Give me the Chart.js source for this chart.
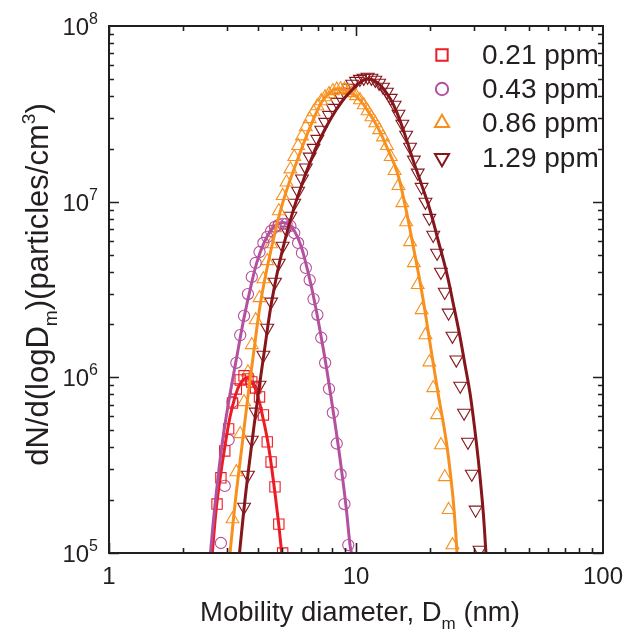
<!DOCTYPE html>
<html>
<head>
<meta charset="utf-8">
<script src="https://cdn.jsdelivr.net/npm/chart.js@4.4.0/dist/chart.umd.min.js"></script>
<style>
    html, body { margin: 0; padding: 0; background: #fff; }
    #sizeDistChart { display: block; width: 635px; height: 630px; }
</style>
</head>
<body>
<canvas id="sizeDistChart" width="635" height="630"></canvas>
<script>
//############################ Data ############################
const seriesLabels = ['0.21 ppm', '0.43 ppm', '0.86 ppm', '1.29 ppm'];

// mobility diameter bins (nm), 64 channels per decade
const binDiameters = [
    2.738, 2.838, 2.942, 3.050, 3.162, 3.278, 3.398, 3.522, 3.652, 3.785,
    3.924, 4.068, 4.217, 4.371, 4.532, 4.698, 4.870, 5.048, 5.233, 5.425,
    5.623, 5.829, 6.043, 6.264, 6.494, 6.732, 6.978, 7.234, 7.499, 7.774,
    8.058, 8.354, 8.660, 8.977, 9.306, 9.647, 10.00, 10.37, 10.75, 11.14,
    11.55, 11.97, 12.41, 12.86, 13.34, 13.82, 14.33, 14.86, 15.40, 15.96,
    16.55, 17.15, 17.78, 18.43, 19.11, 19.81, 20.54, 21.29, 22.07, 22.88,
    23.71, 24.58, 25.48, 26.42, 27.38, 28.39, 29.43, 30.50, 31.62
];
// index of the first bin used by each series
const firstBin = [0, 1, 4, 7];

// measured dN/dlogDm (particles/cm3)
const conc021 = [1.90e5, 2.68e5, 3.81e5, 5.09e5, 7.15e5, 8.59e5, 9.66e5, 1.02e6, 9.79e5, 9.41e5,
    8.70e5, 7.73e5, 6.11e5, 4.29e5, 3.30e5, 2.38e5, 1.46e5, 1.00e5];
const conc043 = [1.14e5, 2.41e5, 4.40e5, 7.24e5, 1.21e6, 1.74e6, 2.24e6, 2.98e6, 3.73e6, 4.48e6,
    5.17e6, 5.82e6, 6.30e6, 6.81e6, 7.18e6, 7.37e6, 7.47e6, 7.47e6, 7.27e6, 6.63e6,
    5.82e6, 5.11e6, 4.20e6, 3.58e6, 2.79e6, 2.27e6, 1.68e6, 1.21e6, 8.6e5, 6.3e5,
    4.2e5, 2.8e5, 1.9e5, 1.11e5];
const conc086 = [1.56e5, 2.89e5, 4.76e5, 7.24e5, 1.07e6, 1.53e6, 2.12e6, 2.83e6, 3.63e6, 4.60e6,
    5.74e6, 7.09e6, 8.85e6, 1.08e7, 1.29e7, 1.53e7, 1.80e7, 2.08e7, 2.36e7, 2.66e7,
    2.96e7, 3.24e7, 3.50e7, 3.74e7, 3.94e7, 4.10e7, 4.27e7, 4.35e7, 4.38e7, 4.35e7,
    4.27e7, 4.16e7, 4.00e7, 3.79e7, 3.55e7, 3.28e7, 3.03e7, 2.80e7, 2.56e7, 2.33e7,
    2.08e7, 1.80e7, 1.50e7, 1.23e7, 9.83e6, 7.66e6, 5.90e6, 4.48e6, 3.36e6, 2.42e6,
    1.74e6, 1.22e6, 8.70e5, 6.11e5, 4.12e5, 2.71e5, 1.76e5, 1.11e5];
const conc129 = [1.83e5, 2.78e5, 4.40e5, 6.36e5, 9.05e5, 1.34e6, 1.91e6, 2.69e6, 3.49e6, 4.48e6,
    5.60e6, 6.90e6, 8.29e6, 9.83e6, 1.15e7, 1.35e7, 1.56e7, 1.80e7, 2.02e7, 2.27e7,
    2.56e7, 2.84e7, 3.11e7, 3.41e7, 3.69e7, 3.94e7, 4.21e7, 4.44e7, 4.68e7, 4.86e7,
    4.99e7, 5.06e7, 5.13e7, 5.06e7, 4.93e7, 4.74e7, 4.50e7, 4.21e7, 3.89e7, 3.55e7,
    3.16e7, 2.77e7, 2.40e7, 2.05e7, 1.73e7, 1.46e7, 1.21e7, 9.96e6, 8.07e6, 6.46e6,
    5.11e6, 3.98e6, 3.06e6, 2.33e6, 1.72e6, 1.26e6, 8.94e5, 6.27e5, 4.29e5, 2.82e5,
    1.76e5, 1.04e5];

// fitted lognormal curves
const fitDm021 = [2.620, 2.712, 2.814, 2.948, 3.090, 3.237, 3.391, 3.603, 3.828, 4.011, 4.202, 4.403, 4.613, 4.833, 5.003];
const fitN021 = [1.0e5, 1.74e5, 2.64e5, 4.07e5, 5.95e5, 7.73e5, 9.17e5, 9.92e5, 9.17e5, 7.73e5, 5.87e5, 4.23e5, 2.68e5, 1.58e5, 1.0e5];

const fitDm043 = [2.576, 2.661, 2.763, 2.867, 3.004, 3.148, 3.329, 3.520, 3.723, 3.974, 4.242, 4.570, 4.924, 5.305,
    5.662, 5.988, 6.275, 6.574, 6.887, 7.216, 7.560, 7.921, 8.299, 8.695, 9.110, 9.457, 9.589];
const fitN043 = [1.0e5, 1.65e5, 2.68e5, 4.12e5, 6.36e5, 9.29e5, 1.43e6, 2.18e6, 3.14e6, 4.54e6, 5.82e6, 6.99e6, 7.56e6, 7.47e6,
    6.72e6, 5.60e6, 4.42e6, 3.36e6, 2.45e6, 1.72e6, 1.18e6, 7.73e5, 5.02e5, 3.13e5, 1.85e5, 1.11e5, 1.0e5];

const fitDm086 = [3.090, 3.252, 3.439, 3.637, 3.864, 4.124, 4.528, 5.087, 6.101, 6.761, 7.352, 8.070, 8.455, 9.282,
    10.19, 11.18, 12.28, 13.48, 14.66, 15.79, 17.01, 18.50, 19.93, 21.48, 23.25, 24.59, 25.29, 25.64];
const fitN086 = [1.0e5, 2.01e5, 3.86e5, 7.44e5, 1.43e6, 2.76e6, 5.31e6, 1.02e7, 2.10e7, 3.00e7, 3.79e7, 4.32e7, 4.38e7, 4.27e7,
    3.89e7, 3.28e7, 2.63e7, 1.97e7, 1.48e7, 9.58e6, 5.67e6, 3.02e6, 1.57e6, 8.15e5, 4.23e5, 2.20e5, 1.35e5, 1.0e5];

const fitDm129 = [3.376, 3.553, 3.757, 3.992, 4.261, 4.570, 5.040, 5.742, 6.824, 7.848, 8.859, 9.815, 10.58, 11.18, 11.94,
    12.74, 13.86, 14.66, 15.79, 17.01, 18.42, 19.93, 21.48, 23.29, 24.82, 26.37, 27.62, 28.94, 30.18, 31.27, 32.06, 32.76, 33.59];
const fitN129 = [1.0e5, 2.01e5, 3.86e5, 7.44e5, 1.43e6, 2.76e6, 5.31e6, 1.02e7, 1.97e7, 2.92e7, 3.79e7, 4.44e7, 4.86e7, 4.99e7, 4.86e7,
    4.50e7, 3.79e7, 3.20e7, 2.40e7, 1.73e7, 1.25e7, 8.97e6, 6.05e6, 3.93e6, 2.58e6, 1.70e6, 1.18e6, 8.15e5, 5.22e5, 3.39e5, 2.38e5, 1.69e5, 1.0e5];

// axis ticks
const xDecades = [1, 10, 100];
const xTickLabels = ['1', '10', '100'];
const yDecades = [1e5, 1e6, 1e7, 1e8];
const yTickExponents = ['5', '6', '7', '8'];

const xAxisTitle = [['Mobility diameter, D', 0], ['m', -1], [' (nm)', 0]];
const yAxisTitle = [['dN/d(logD', 0], ['m', -1], [')(particles/cm', 0], ['3', 1], [')', 0]];

//############################ Styling ############################
const fontFamily = '"Liberation Sans", Arial, Helvetica, sans-serif';
const inkColor = '#231f20';
const seriesColors = ['#ec1c24', '#b4519e', '#f7901e', '#86161b'];
const seriesMarkers = [
    { style: 'rect', radius: 7.3, rotation: 0 },
    { style: 'circle', radius: 5.6, rotation: 0 },
    { style: 'triangle', radius: 7.4, rotation: 0 },
    { style: 'triangle', radius: 7.4, rotation: 180 },
];

const measured = [conc021, conc043, conc086, conc129];
const fits = [[fitDm021, fitN021], [fitDm043, fitN043], [fitDm086, fitN086], [fitDm129, fitN129]];

const toPoints = (xs, ys) => xs.map((x, i) => ({ x: x, y: ys[i] }));

const datasets = [];
measured.forEach((conc, s) => {
    datasets.push({
        type: 'scatter',
        label: seriesLabels[s],
        data: conc.map((v, i) => ({ x: binDiameters[firstBin[s] + i], y: v })),
        showLine: false,
        pointStyle: seriesMarkers[s].style,
        pointRadius: seriesMarkers[s].radius,
        pointRotation: seriesMarkers[s].rotation,
        pointBorderWidth: 1.1,
        pointBorderColor: seriesColors[s],
        pointBackgroundColor: 'rgba(0,0,0,0)',
        clip: 0,
        order: 10 + s,
    });
});
fits.forEach(([dm, n], s) => {
    datasets.push({
        type: 'line',
        label: seriesLabels[s] + ' fit',
        data: toPoints(dm, n),
        showLine: true,
        borderColor: seriesColors[s],
        borderWidth: 3,
        pointRadius: 0,
        tension: 0.4,
        fill: false,
        clip: 0,
        order: 3 - s,
    });
});

//################# Rich text helper (sub/superscripts) #################
function richText(ctx, parts, cx, cy, size) {
    const widths = parts.map(([t, shift]) => {
        ctx.font = (shift ? size * 0.62 : size) + 'px ' + fontFamily;
        return ctx.measureText(t).width;
    });
    const total = widths.reduce((a, b) => a + b, 0);
    let x = cx - total / 2;
    const base = cy + size * 0.36;
    ctx.textAlign = 'left';
    ctx.textBaseline = 'alphabetic';
    parts.forEach(([t, shift], i) => {
        ctx.font = (shift ? size * 0.62 : size) + 'px ' + fontFamily;
        const dy = shift < 0 ? size * 0.3 : (shift > 0 ? -size * 0.42 : 0);
        ctx.fillText(t, x, base + dy);
        x += widths[i];
    });
}

//################# Frame, inward ticks, labels, titles, legend #################
const framePlugin = {
    id: 'frameAxes',
    afterDatasetsDraw(chart) {
        const ctx = chart.ctx;
        const a = chart.chartArea;
        const xs = chart.scales.x;
        const ys = chart.scales.y;
        ctx.save();
        ctx.strokeStyle = inkColor;
        ctx.fillStyle = inkColor;

        // ticks on all four sides, pointing inwards
        ctx.lineWidth = 1.6;
        ctx.beginPath();
        xDecades.slice(0, -1).forEach(d => {
            for (let m = 1; m <= 9; m++) {
                const px = Math.round(xs.getPixelForValue(d * m)) + 0.5;
                const len = m === 1 ? 10 : 5;
                ctx.moveTo(px, a.bottom); ctx.lineTo(px, a.bottom - len);
                ctx.moveTo(px, a.top); ctx.lineTo(px, a.top + len);
            }
        });
        yDecades.slice(0, -1).forEach(d => {
            for (let m = 1; m <= 9; m++) {
                const py = Math.round(ys.getPixelForValue(d * m)) + 0.5;
                const len = m === 1 ? 10 : 5;
                ctx.moveTo(a.left, py); ctx.lineTo(a.left + len, py);
                ctx.moveTo(a.right, py); ctx.lineTo(a.right - len, py);
            }
        });
        ctx.stroke();

        // frame
        ctx.lineWidth = 2;
        ctx.strokeRect(a.left, a.top, a.right - a.left, a.bottom - a.top);

        // x tick labels
        ctx.font = '24px ' + fontFamily;
        ctx.textAlign = 'center';
        ctx.textBaseline = 'middle';
        xDecades.forEach((v, i) => {
            ctx.fillText(xTickLabels[i], xs.getPixelForValue(v), a.bottom + 24);
        });

        // y tick labels 10^n
        yDecades.forEach((v, i) => {
            const py = ys.getPixelForValue(v);
            ctx.font = '16px ' + fontFamily;
            ctx.textAlign = 'right';
            ctx.textBaseline = 'alphabetic';
            const right = a.left - 11;
            const ew = ctx.measureText(yTickExponents[i]).width;
            ctx.fillText(yTickExponents[i], right, py - 2);
            ctx.font = '24px ' + fontFamily;
            ctx.fillText('10', right - ew, py + 9);
        });

        // axis titles
        richText(ctx, xAxisTitle, (a.left + a.right) / 2 + 4, 611, 27.5);
        ctx.save();
        ctx.translate(37, (a.top + a.bottom) / 2 - 5);
        ctx.rotate(-Math.PI / 2);
        richText(ctx, yAxisTitle, 0, 0, 31);
        ctx.restore();

        // legend
        const rowY = [55, 89, 123, 158];
        seriesLabels.forEach((label, s) => {
            const mk = seriesMarkers[s];
            ctx.strokeStyle = seriesColors[s];
            ctx.fillStyle = 'rgba(0,0,0,0)';
            Chart.helpers.drawPoint(ctx, {
                pointStyle: mk.style,
                radius: mk.radius * 1.1,
                rotation: mk.rotation,
                borderWidth: 1.1,
            }, 442, rowY[s]);
            ctx.fillStyle = inkColor;
            ctx.font = '28px ' + fontFamily;
            ctx.textAlign = 'left';
            ctx.textBaseline = 'middle';
            ctx.fillText(label, 482, rowY[s] + 1);
        });
        ctx.restore();
    }
};

//################# Build the chart #################
const sizeDistChart = new Chart(document.getElementById('sizeDistChart'), {
    type: 'scatter',
    data: { datasets: datasets },
    options: {
        responsive: false,
        animation: false,
        devicePixelRatio: 1,
        layout: { padding: { left: 109, right: 32, top: 26, bottom: 77 } },
        plugins: {
            legend: { display: false },
            tooltip: { enabled: false },
        },
        scales: {
            x: { type: 'logarithmic', min: 1, max: 100, display: false },
            y: { type: 'logarithmic', min: 1e5, max: 1e8, display: false },
        },
    },
    plugins: [framePlugin],
});
</script>
</body>
</html>
